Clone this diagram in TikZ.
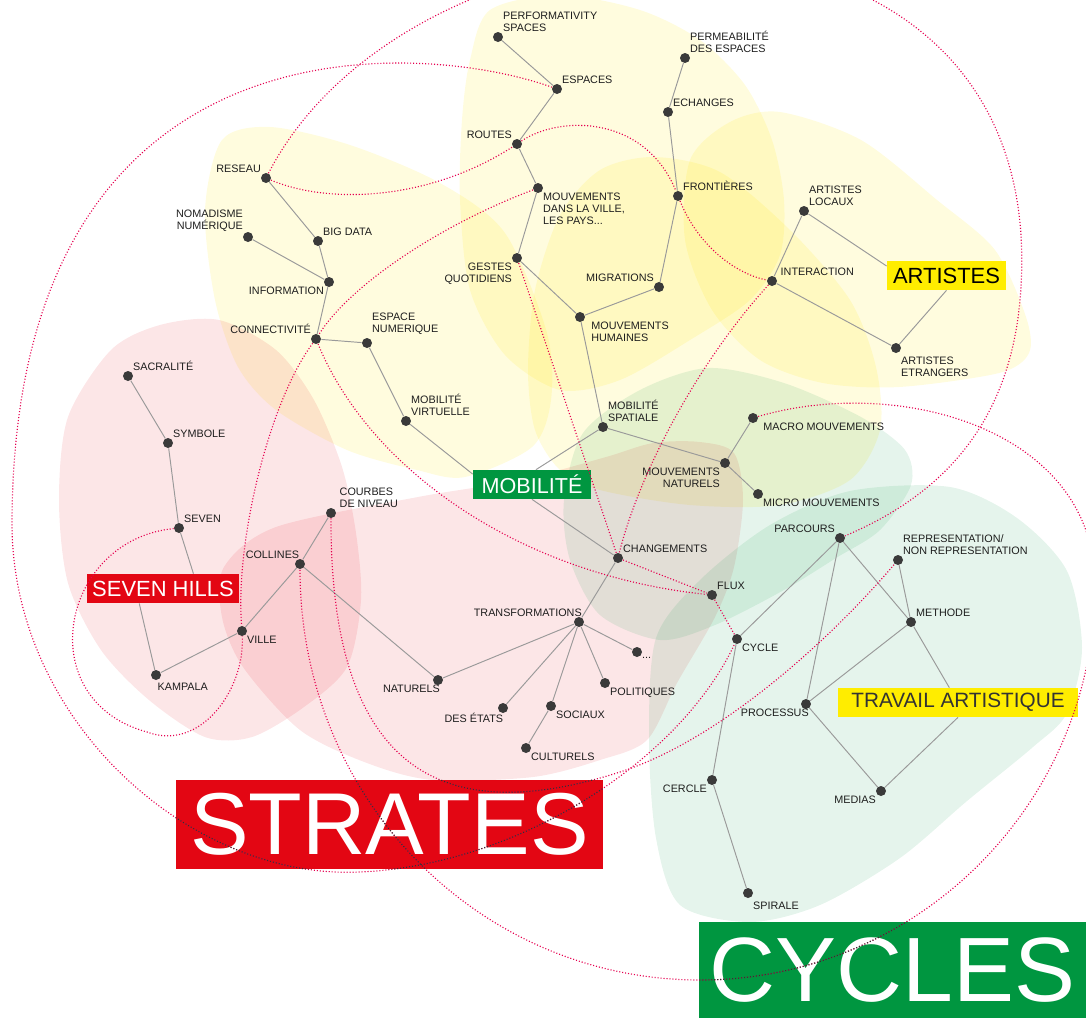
\documentclass[tikz,border=0pt]{standalone}
\usepackage{fontspec}
\setmainfont{Liberation Sans}

\definecolor{dotgrey}{HTML}{3A3A3A}
\definecolor{labelgrey}{HTML}{1E1E1E}
\definecolor{branchgrey}{HTML}{9A9A9A}
\definecolor{linkred}{HTML}{E5004F}
\definecolor{stratesred}{HTML}{E30613}
\definecolor{cyclegreen}{HTML}{009640}
\definecolor{artyellow}{HTML}{FFED00}
\definecolor{blobyellow}{HTML}{FFE600}

\begin{document}
\begin{tikzpicture}[
    x=0.02cm, y=-0.02cm, % one unit is one pixel of the sketch
    dot/.style={circle, fill=dotgrey, minimum size=0.2cm, inner sep=0pt}, % Style for concept dots
    lbl/.style={font=\fontsize{6.15}{6.85}\selectfont, text=labelgrey, inner sep=0.6pt, align=left}, % Style for concept labels
    branch/.style={draw=branchgrey, line width=0.55pt}, % Style for tree branches
    link/.style={draw=linkred, line width=0.65pt, dash pattern=on 0.6pt off 1.1pt}, % Style for dotted links
    tagbox/.style={inner sep=0pt, minimum height=0.58cm, font=\fontsize{12.3}{14}\selectfont}, % Style for theme tags
    bigbox/.style={inner sep=0pt, text=white, font=\fontsize{50}{56}\selectfont}, % Style for big titles
    yblob/.style={fill=blobyellow, fill opacity=0.13}, % Yellow areas
    pblob/.style={fill=stratesred, fill opacity=0.10}, % Pink areas
    gblob/.style={fill=cyclegreen, fill opacity=0.10} % Green areas
  ]
    \useasboundingbox (0,0) rectangle (1086,1019);
    \clip (0,0) rectangle (1086,1019);

    % Background areas
    \fill[yblob] plot[smooth cycle] coordinates {(222,140) (270,127) (350,145) (440,183) (505,233) (547,333) (551,400) (532,447) (465,477) (417,470) (347,450) (276,410) (238,367) (215,300) (205,210)};
    \fill[yblob] plot[smooth cycle] coordinates {(470,60) (490,10) (560,-5) (640,10) (700,40) (745,85) (772,140) (784,200) (780,255) (750,300) (690,340) (620,380) (560,390) (505,355) (470,290) (460,200) (462,120)};
    \fill[yblob] plot[smooth cycle] coordinates {(690,160) (730,122) (780,112) (861,140) (937,200) (995,250) (1026,317) (1029,353) (999,373) (899,387) (823,383) (760,360) (712,310) (685,240)};
    \fill[yblob] plot[smooth cycle] coordinates {(600,170) (654,157) (720,172) (790,230) (850,300) (876,367) (880,430) (850,480) (780,505) (690,505) (600,490) (560,470) (535,430) (528,370) (535,290) (560,215)};
    \fill[pblob] plot[smooth cycle] coordinates {(219,320) (276,350) (314,400) (342,467) (356,533) (361,600) (347,667) (304,707) (252,737) (205,737) (149,700) (101,650) (68,583) (59,500) (68,417) (111,350) (160,325)};
    \fill[pblob] plot[smooth cycle] coordinates {(224,567) (276,527) (418,497) (520,480) (606,457) (653,443) (700,442) (734,453) (743,500) (734,567) (715,617) (677,683) (647,740) (600,760) (533,777) (433,780) (367,763) (300,730) (243,667) (222,617)};
    \fill[gblob] plot[smooth cycle] coordinates {(564,500) (583,433) (640,390) (708,368) (784,383) (861,417) (905,450) (911,485) (880,530) (836,558) (784,590) (715,625) (660,640) (600,615) (570,560)};
    \fill[gblob] plot[smooth cycle] coordinates {(850,491) (950,487) (1017,518) (1067,571) (1082,648) (1067,713) (1033,747) (967,801) (900,858) (820,905) (750,922) (680,905) (656,838) (649,738) (656,638) (700,580) (770,525)};

    % Define nodes
    \node[dot, label={[lbl]above right:PERFORMATIVITY\\SPACES}] (perf) at (498,37) {};
    \node[dot, label={[lbl]above right:ESPACES}] (espaces) at (557,89) {};
    \node[dot, label={[lbl]above left:ROUTES}] (routes) at (517,144) {};
    \node[dot, label={[lbl]below right:MOUVEMENTS\\DANS LA VILLE,\\LES PAYS...}] (mouvville) at (538,188) {};
    \node[dot, label={[lbl, align=right]below left:GESTES\\QUOTIDIENS}] (gestes) at (517,258) {};
    \node[dot, label={[lbl]above left:RESEAU}] (reseau) at (266,178) {};
    \node[dot, label={[lbl, align=right]above left:NOMADISME\\NUMÉRIQUE}] (nomad) at (248,237) {};
    \node[dot, label={[lbl]above right:BIG DATA}] (bigdata) at (318,241) {};
    \node[dot, label={[lbl]below left:INFORMATION}] (info) at (329,282) {};
    \node[dot, label={[lbl]above left:CONNECTIVITÉ}] (connect) at (316,339) {};
    \node[dot, label={[lbl, yshift=2pt]above right:ESPACE\\NUMERIQUE}] (espnum) at (367,343) {};
    \node[dot, label={[lbl]above right:MOBILITÉ\\VIRTUELLE}] (mobvirt) at (406,421) {};
    \node[dot, label={[lbl]above right:MOBILITÉ\\SPATIALE}] (mobspat) at (603,427) {};
    \node[dot, label={[lbl, xshift=3.5pt]below right:MOUVEMENTS\\HUMAINES}] (mouvhum) at (580,317) {};
    \node[dot, label={[lbl]above left:MIGRATIONS}] (migr) at (659,287) {};
    \node[dot, label={[lbl]above right:FRONTIÈRES}] (front) at (678,196) {};
    \node[dot, label={[lbl]above right:ECHANGES}] (echanges) at (668,112) {};
    \node[dot, label={[lbl]above right:PERMEABILITÉ\\DES ESPACES}] (permeab) at (685,58) {};
    \node[dot, label={[lbl]above right:ARTISTES\\LOCAUX}] (artlocaux) at (804,211) {};
    \node[dot, label={[lbl, xshift=2pt]above right:INTERACTION}] (interaction) at (772,281) {};
    \node[dot, label={[lbl, yshift=-2pt]below right:ARTISTES\\ETRANGERS}] (artetr) at (896,348) {};
    \node[dot, label={[lbl, xshift=3pt]below right:MACRO MOUVEMENTS}] (macro) at (753,418) {};
    \node[dot, label={[lbl, align=right]below left:MOUVEMENTS\\NATURELS}] (mouvnat) at (725,463) {};
    \node[dot, label={[lbl]below right:MICRO MOUVEMENTS}] (micro) at (758,494) {};
    \node[dot, label={[lbl]above right:CHANGEMENTS}] (changements) at (618,558) {};
    \node[dot, label={[lbl]above right:FLUX}] (flux) at (712,595) {};
    \node[dot, label={[lbl, xshift=4.5pt]above left:TRANSFORMATIONS}] (transf) at (579,622) {};
    \node[dot, label={[lbl]below right:...}] (autres) at (637,652) {};
    \node[dot, label={[lbl]below right:POLITIQUES}] (politiques) at (605,683) {};
    \node[dot, label={[lbl]below right:SOCIAUX}] (sociaux) at (551,706) {};
    \node[dot, label={[lbl]below right:CULTURELS}] (culturels) at (526,748) {};
    \node[dot, label={[lbl, xshift=3pt]below left:DES ÉTATS}] (etats) at (503,708) {};
    \node[dot, label={[lbl, xshift=4pt]below left:NATURELS}] (naturels) at (438,680) {};
    \node[dot, label={[lbl, xshift=2.5pt]above left:COLLINES}] (collines) at (300,564) {};
    \node[dot, label={[lbl, xshift=2pt]above right:COURBES\\DE NIVEAU}] (courbes) at (331,513) {};
    \node[dot, label={[lbl]below right:VILLE}] (ville) at (242,631) {};
    \node[dot, label={[lbl, xshift=-2pt, yshift=-1.5pt]below right:KAMPALA}] (kampala) at (156,675) {};
    \node[dot, label={[lbl]above right:SEVEN}] (seven) at (179,528) {};
    \node[dot, label={[lbl]above right:SYMBOLE}] (symbole) at (168,443) {};
    \node[dot, label={[lbl]above right:SACRALITÉ}] (sacralite) at (128,376) {};
    \node[dot, label={[lbl]above left:PARCOURS}] (parcours) at (840,538) {};
    \node[dot, label={[lbl]above right:REPRESENTATION/\\NON REPRESENTATION}] (repr) at (898,560) {};
    \node[dot, label={[lbl]above right:METHODE}] (methode) at (911,622) {};
    \node[dot, label={[lbl]below right:CYCLE}] (cycle) at (737,639) {};
    \node[dot, label={[lbl, xshift=4.5pt]below left:PROCESSUS}] (processus) at (806,704) {};
    \node[dot, label={[lbl]below left:MEDIAS}] (medias) at (881,791) {};
    \node[dot, label={[lbl]below left:CERCLE}] (cercle) at (712,780) {};
    \node[dot, label={[lbl, yshift=-2pt]below right:SPIRALE}] (spirale) at (748,893) {};

    % Theme tags
    \node[tagbox, fill=cyclegreen, text=white, minimum width=2.36cm] (mobilite) at (532,484.5) {MOBILITÉ};
    \node[tagbox, fill=artyellow, text=black, minimum width=2.38cm, font=\fontsize{12.5}{14}\selectfont] (artistes) at (946.5,275.5) {ARTISTES};
    \node[tagbox, fill=stratesred, text=white, minimum width=3.04cm, font=\fontsize{12.5}{14}\selectfont] (sevenhills) at (163,588.5) {SEVEN HILLS};
    \node[tagbox, fill=artyellow, text=black!80, minimum width=4.8cm, font=\fontsize{11.8}{14}\selectfont] (travail) at (958,702.5) {TRAVAIL ARTISTIQUE};
    \node[bigbox, fill=stratesred, minimum width=8.54cm, minimum height=1.78cm] (strates) at (389.5,824.5) {STRATES};
    \node[bigbox, fill=cyclegreen, minimum width=7.74cm, minimum height=1.92cm, font=\fontsize{52}{58}\selectfont] (cycles) at (892.5,970) {CYCLES};

    % Draw branches
    \draw[branch] (perf) -- (espaces) -- (routes) -- (mouvville) -- (gestes) -- (mouvhum) -- (migr) -- (front) -- (echanges) -- (permeab);
    \draw[branch] (mouvhum) -- (mobspat) -- (mouvnat) -- (macro);
    \draw[branch] (mouvnat) -- (micro);
    \draw[branch] (mobspat) -- (mobilite.75);
    \draw[branch] (reseau) -- (bigdata) -- (info) -- (connect) -- (espnum) -- (mobvirt) -- (mobilite.170);
    \draw[branch] (nomad) -- (info);
    \draw[branch] (mobilite.south) -- (changements) -- (transf);
    \draw[branch] (transf) -- (naturels) -- (collines) -- (courbes);
    \draw[branch] (transf) -- (etats);
    \draw[branch] (transf) -- (sociaux) -- (culturels);
    \draw[branch] (transf) -- (politiques);
    \draw[branch] (transf) -- (autres);
    \draw[branch] (collines) -- (ville) -- (kampala) -- (sevenhills.212);
    \draw[branch] (sevenhills.26) -- (seven) -- (symbole) -- (sacralite);
    \draw[branch] (artlocaux) -- (interaction) -- (artetr) -- (artistes.south);
    \draw[branch] (artlocaux) -- (artistes.171);
    \draw[branch] (parcours) -- (cycle) -- (cercle) -- (spirale);
    \draw[branch] (parcours) -- (processus) -- (medias) -- (travail.south);
    \draw[branch] (parcours) -- (methode) -- (processus);
    \draw[branch] (repr) -- (methode) -- (travail);

    % Draw dotted links
    \draw[link] (reseau) .. controls (420,-120) and (1060,-150) .. (1020,300) .. controls (1008,435) and (930,500) .. (parcours);
    \draw[link] (reseau) .. controls (330,205) and (430,200) .. (routes);
    \draw[link] (routes) .. controls (560,115) and (645,115) .. (front);
    \draw[link] (front) .. controls (700,250) and (740,275) .. (interaction);
    \draw[link] (espaces) .. controls (420,40) and (15,10) .. (12,520) .. controls (10,720) and (190,880) .. (360,872) .. controls (520,865) and (680,760) .. (cycle);
    \draw[link] (mouvville) .. controls (440,225) and (350,285) .. (connect);
    \draw[link] (connect) .. controls (270,400) and (235,540) .. (ville);
    \draw[link] (seven) .. controls (60,540) and (30,700) .. (147,732) .. controls (200,752) and (245,690) .. (ville);
    \draw[link] (connect) .. controls (370,470) and (520,575) .. (flux);
    \draw[link] (changements) -- (flux);
    \draw[link] (flux) -- (cycle);
    \draw[link] (gestes) -- (changements);
    \draw[link] (interaction) .. controls (700,360) and (640,470) .. (changements);
    \draw[link] (macro) .. controls (900,375) and (1095,430) .. (1095,585) .. controls (1095,803) and (918,980) .. (700,980) .. controls (480,980) and (300,800) .. (collines);
    \draw[link] (courbes) .. controls (330,800) and (470,820) .. (620,772) .. controls (720,740) and (830,640) .. (repr);

    % Links show dark where they cross the titles
    \begin{scope}[link/.append style={draw=black!80}]
      \clip (strates.south west) rectangle (strates.north east) (cycles.south west) rectangle (cycles.north east);
      \draw[link] (espaces) .. controls (420,40) and (15,10) .. (12,520) .. controls (10,720) and (190,880) .. (360,872) .. controls (520,865) and (680,760) .. (cycle);
      \draw[link] (macro) .. controls (900,375) and (1095,430) .. (1095,585) .. controls (1095,803) and (918,980) .. (700,980) .. controls (480,980) and (300,800) .. (collines);
      \draw[link] (courbes) .. controls (330,800) and (470,820) .. (620,772) .. controls (720,740) and (830,640) .. (repr);
    \end{scope}
\end{tikzpicture}
\end{document}
